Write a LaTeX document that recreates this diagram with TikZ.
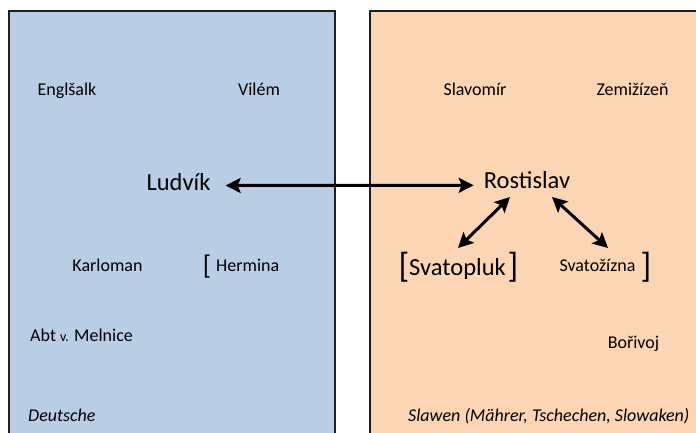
\documentclass[tikz,border=0pt]{standalone}
\usepackage{fontspec}
\setmainfont{Carlito}
\usetikzlibrary{arrows.meta,calc}
\definecolor{germanfill}{RGB}{185,205,229}
\definecolor{slavfill}{RGB}{252,213,181}
\definecolor{frame}{RGB}{30,30,30}
\begin{document}
\begin{tikzpicture}[x=1pt,y=-1pt,
  region/.style={draw=frame,line width=2.5pt},
  person/.style={font=\fontsize{18}{20}\selectfont,inner sep=0pt,anchor=base},
  bigperson/.style={font=\fontsize{24.5}{28}\selectfont,inner sep=0pt,anchor=base},
  caption/.style={font=\fontsize{18}{20}\selectfont\itshape,inner sep=0pt,anchor=base west},
  bracket/.style={inner sep=0pt,anchor=base},
  link/.style={line width=3pt,{Stealth[length=15pt,width=15pt,inset=3pt]}-{Stealth[length=15pt,width=15pt,inset=3pt]}}]
\useasboundingbox (0,0) rectangle (696,433);
\clip (0,0) rectangle (696,433);
% two regions
\draw[region,fill=germanfill] (9,11) rectangle (335,450);
\draw[region,fill=slavfill] (370,11) rectangle (720,450);
% German side
\node[person] (englsalk) at (67,96) {Englšalk};
\node[person] (vilem) at (259,96) {Vilém};
\node[bigperson] (ludvik) at (178.5,190) {Ludvík};
\node[person] (karloman) at (107.5,271.5) {Karloman};
\node[person,anchor=base west] (hermina) at (216,271.5) {Hermina};
\node[bracket,font=\fontsize{27}{30}\selectfont] (hbr) at (207,274.5) {[};
\node[person,anchor=base west] (abt) at (30,341.5) {Abt {\fontsize{14}{16}\selectfont v.} Melnice};
\node[caption] (deutsche) at (28,421.5) {Deutsche};
% Slavic side
\node[person] (slavomir) at (475,96) {Slavomír};
\node[person] (zemizizen) at (632.5,96) {Zemižízeň};
\node[bigperson] (rostislav) at (527,188.3) {Rostislav};
\node[bigperson] (svatopluk) at (457.5,275) {Svatopluk};
\node[bracket,font=\fontsize{35}{38}\selectfont] (svl) at (404,277.5) {[};
\node[bracket,font=\fontsize{35}{38}\selectfont] (svr) at (513,277.5) {]};
\node[person] (svatozizna) at (597.5,271.7) {Svatožízna};
\node[bracket,font=\fontsize{35}{38}\selectfont] (szr) at (646,277.5) {]};
\node[person] (borivoj) at (633.5,348) {Bořivoj};
\node[caption] (slawen) at (408,421.5) {Slawen (Mährer, Tschechen, Slowaken)};
% relations
\draw[link] ($(ludvik.base east)+(15,-4.5)$) -- ($(rostislav.base west)+(-10,-3)$);
\draw[link] ($(rostislav.base)+(-17,8.7)$) -- ($(svatopluk.base)+(0.5,-27)$);
\draw[link] ($(rostislav.base)+(25,8.7)$) -- ($(svatozizna.base)+(10.5,-23.7)$);
\end{tikzpicture}
\end{document}
